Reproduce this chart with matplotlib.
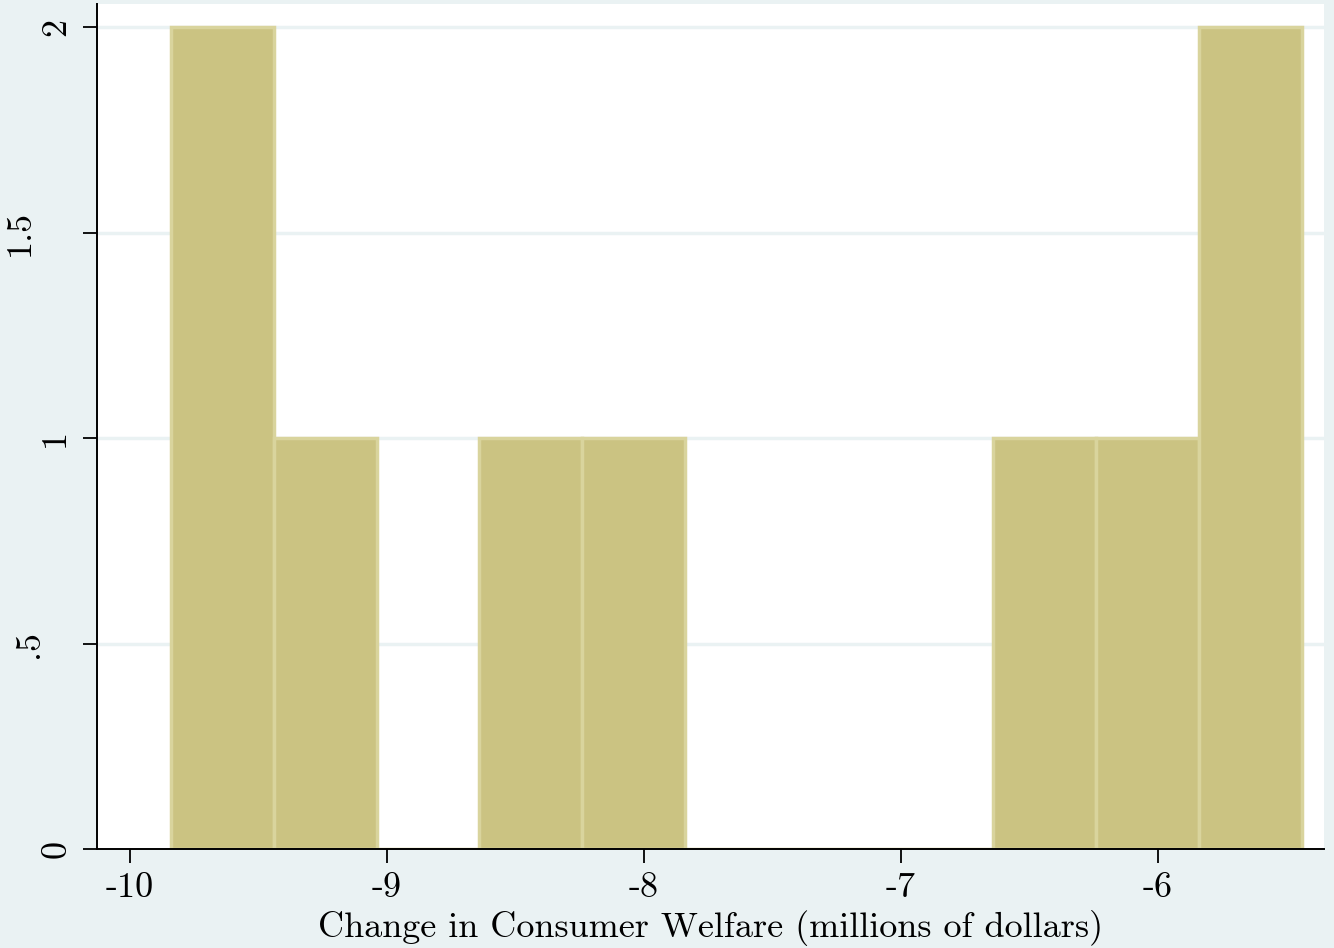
import matplotlib
matplotlib.use("Agg")
import matplotlib.pyplot as plt
from matplotlib.transforms import blended_transform_factory, IdentityTransform

# Data
bin_left_edges = [-9.84, -9.44, -9.04, -8.64, -8.24, -7.84, -7.44, -7.04, -6.64, -6.24, -5.84]
bin_width = 0.40
counts = [2, 1, 0, 1, 1, 0, 0, 0, 1, 1, 2]
xticks = [-10, -9, -8, -7, -6]
xtick_labels = ["-10", "-9", "-8", "-7", "-6"]
yticks = [0, 0.5, 1, 1.5, 2]
ytick_labels = ["0", ".5", "1", "1.5", "2"]
xlabel = "Change in Consumer Welfare (millions of dollars)"

plt.rcParams["font.family"] = ["cmr10", "DejaVu Serif"]
plt.rcParams["axes.unicode_minus"] = False

W, H = 1334, 948
bg = "#EAF2F3"
fig = plt.figure(figsize=(W / 100, H / 100), dpi=100, facecolor=bg)
ax = fig.add_axes([97 / W, 1 - 849 / H, (1324 - 97) / W, (849 - 4) / H])
ax.set_facecolor("white")

for y in yticks[1:]:
    ax.axhline(y, color=bg, lw=2.5, zorder=0)

ax.bar(bin_left_edges, counts, width=bin_width, align="edge",
       color="#CBC382", edgecolor="#D9D49D", linewidth=2.5, zorder=2)

ax.set_xlim(-10.128, -5.354)
ax.set_ylim(0, 2.056)

for s in ["top", "right"]:
    ax.spines[s].set_visible(False)
for s in ["left", "bottom"]:
    ax.spines[s].set_color("black")
    ax.spines[s].set_linewidth(1.4)

ax.set_xticks(xticks)
ax.set_xticklabels(xtick_labels)
ax.set_yticks(yticks)
ax.set_yticklabels([""] * len(yticks))
ax.tick_params(axis="both", direction="out", length=10, width=1.3, labelsize=26, color="black")
ax.tick_params(axis="x", pad=7)
ax.set_xlabel(xlabel, fontsize=26, labelpad=4)

# Stata-style rotated y tick labels (centre x positions in pixels)
label_centres_px = [56.5, 29.5, 55.5, 20.5, 56.5]
tr = blended_transform_factory(IdentityTransform(), ax.transData)
for yv, lab, cx in zip(yticks, ytick_labels, label_centres_px):
    ax.text(cx, yv, lab, transform=tr, rotation=90, ha="center", va="center",
            fontsize=26, clip_on=False)

fig.savefig("out.png", dpi=100, facecolor=bg)
